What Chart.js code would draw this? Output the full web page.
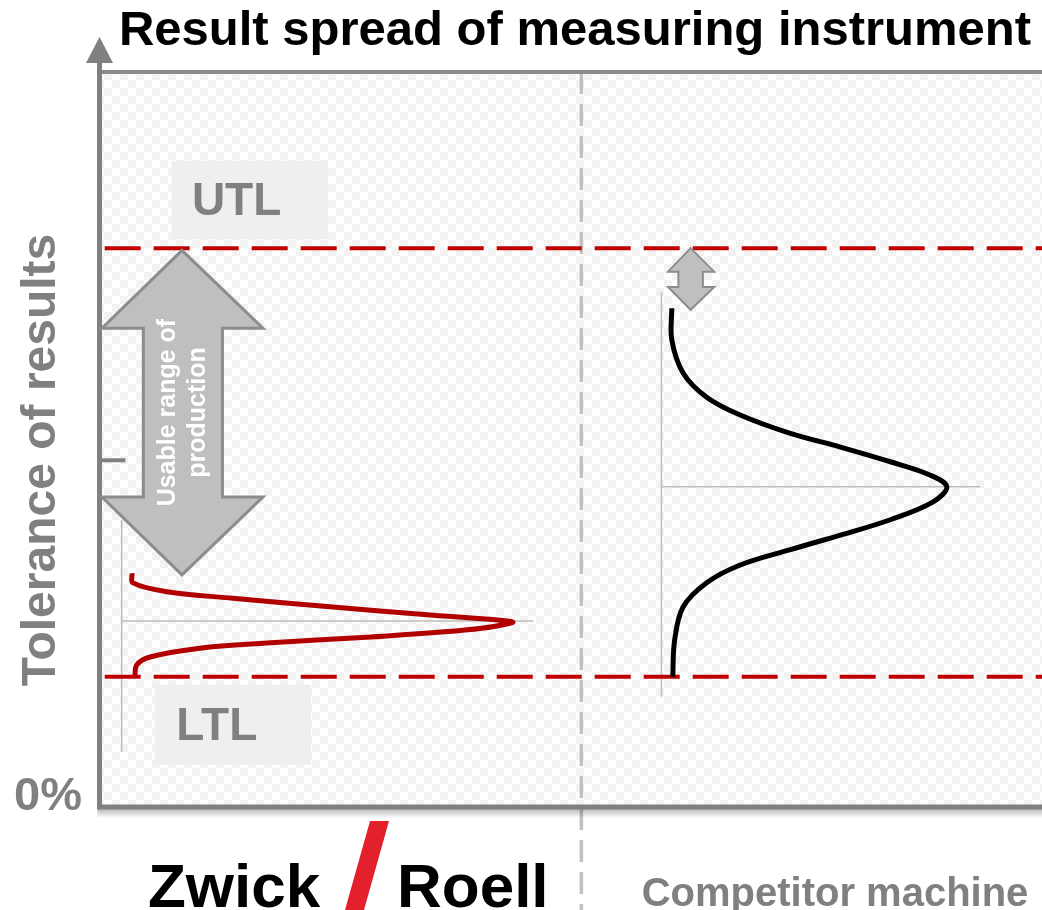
<!DOCTYPE html>
<html>
<head>
<meta charset="utf-8">
<title>Result spread of measuring instrument</title>
<script src="https://cdn.jsdelivr.net/npm/chart.js@4.4.1/dist/chart.umd.min.js"></script>
<style>
  html, body { margin: 0; padding: 0; background: #fff; }
  #chart { display: block; }
</style>
</head>
<body>
<canvas id="chart" width="1042" height="910"></canvas>
<script>
// x = position across the plot (0..100), y = tolerance in % of the axis (0 at the bottom)
const upperLimit = 76.0;
const lowerLimit = 17.6;
const separatorX = 51.1;

// ZwickRoell: narrow spread
const zwickX = [3.4, 3.5, 7.1, 14.1, 24.7, 35.4, 42.5, 43.8, 39.0, 28.3, 17.7, 10.6, 5.3, 3.9, 3.7];
const zwickY = [31.7, 30.4, 29.2, 28.3, 27.1, 26.0, 25.3, 25.0, 24.0, 23.0, 22.2, 21.5, 20.3, 19.2, 17.6];
const zwickMean = 25.2;

// Competitor: wide spread
const compX = [60.7, 60.7, 61.9, 64.4, 67.9, 73.2, 78.6, 83.9, 88.1, 89.9, 88.4, 83.9, 78.6, 73.2, 67.9, 64.4, 61.9, 61.0, 60.8];
const compY = [67.8, 63.5, 59.0, 55.7, 53.3, 50.8, 48.9, 46.9, 45.1, 43.5, 41.4, 39.0, 36.9, 34.9, 32.8, 30.4, 27.1, 22.6, 17.6];
const compMean = 43.5;

// labels
const chartTitle = 'Result spread of measuring instrument';
const yAxisTitle = 'Tolerance of results';
const yTickLabels = ['0%'];
const limitLabels = ['UTL', 'LTL'];
const rangeLabel = ['Usable range of', 'production'];
const machineLabels = ['Zwick', 'Roell', 'Competitor machine'];

const FONT = '"Liberation Sans", Arial, Helvetica, sans-serif';
const GREY_TEXT = '#808080';

const toPoints = (xs, ys) => xs.map((x, i) => ({ x: x, y: ys[i] }));

// straight helper line between two points
const segment = (x1, y1, x2, y2) => [{ x: x1, y: y1 }, { x: x2, y: y2 }];

// checkered background of the plot
const backgroundPlugin = {
  id: 'checkerBackground',
  beforeDraw(chart) {
    const { ctx, chartArea } = chart;
    const tile = document.createElement('canvas');
    tile.width = 16;
    tile.height = 16;
    const t = tile.getContext('2d');
    t.fillStyle = '#ffffff';
    t.fillRect(0, 0, 16, 16);
    t.fillStyle = '#f2f2f2';
    t.fillRect(0, 0, 8, 8);
    t.fillRect(8, 8, 8, 8);
    ctx.save();
    ctx.fillStyle = ctx.createPattern(tile, 'repeat');
    ctx.fillRect(chartArea.left, chartArea.top, chartArea.right - chartArea.left, chartArea.bottom - chartArea.top);
    ctx.restore();
  }
};

// draw a vertical double arrow, given in data units
function drawDoubleArrow(chart, a, lineWidth) {
  const { ctx } = chart;
  const X = v => chart.scales.x.getPixelForValue(v);
  const Y = v => chart.scales.y.getPixelForValue(v);
  const pts = [
    [a.cx, a.top], [a.headR, a.headTop], [a.shaftR, a.headTop], [a.shaftR, a.headBottom],
    [a.headR, a.headBottom], [a.cx, a.bottom], [a.headL, a.headBottom], [a.shaftL, a.headBottom],
    [a.shaftL, a.headTop], [a.headL, a.headTop]
  ];
  ctx.save();
  ctx.beginPath();
  pts.forEach((p, i) => {
    if (i === 0) ctx.moveTo(X(p[0]), Y(p[1]));
    else ctx.lineTo(X(p[0]), Y(p[1]));
  });
  ctx.closePath();
  ctx.fillStyle = '#bfbfbf';
  ctx.fill();
  ctx.lineJoin = 'miter';
  ctx.strokeStyle = '#8c8c8c';
  ctx.lineWidth = lineWidth;
  ctx.stroke();
  ctx.restore();
}

// axes, labels, arrows and the logo
const decorPlugin = {
  id: 'decor',
  afterDatasetsDraw(chart) {
    const { ctx, chartArea } = chart;
    const X = v => chart.scales.x.getPixelForValue(v);
    const Y = v => chart.scales.y.getPixelForValue(v);
    const left = chartArea.left - 0.5;

    ctx.save();

    // top border
    ctx.strokeStyle = '#8c8c8c';
    ctx.lineWidth = 4;
    ctx.beginPath();
    ctx.moveTo(chartArea.left, chartArea.top);
    ctx.lineTo(chartArea.right, chartArea.top);
    ctx.stroke();

    // bottom axis with a soft shadow
    const grad = ctx.createLinearGradient(0, chartArea.bottom + 3, 0, chartArea.bottom + 12);
    grad.addColorStop(0, 'rgba(0,0,0,0.28)');
    grad.addColorStop(1, 'rgba(0,0,0,0)');
    ctx.fillStyle = grad;
    ctx.fillRect(left - 2, chartArea.bottom + 3, chartArea.right - left + 2, 9);
    ctx.strokeStyle = '#808080';
    ctx.lineWidth = 5;
    ctx.beginPath();
    ctx.moveTo(left - 2.5, chartArea.bottom + 1);
    ctx.lineTo(chartArea.right, chartArea.bottom + 1);
    ctx.stroke();

    // left axis with arrow head
    ctx.beginPath();
    ctx.moveTo(left, chartArea.bottom + 3);
    ctx.lineTo(left, chartArea.top - 12);
    ctx.stroke();
    ctx.fillStyle = '#808080';
    ctx.beginPath();
    ctx.moveTo(left, chartArea.top - 35);
    ctx.lineTo(left + 13.5, chartArea.top - 9);
    ctx.lineTo(left - 13.5, chartArea.top - 9);
    ctx.closePath();
    ctx.fill();

    // small tick on the axis
    ctx.lineWidth = 4;
    ctx.beginPath();
    ctx.moveTo(left, Y(47.1));
    ctx.lineTo(X(2.7), Y(47.1));
    ctx.stroke();

    // title
    ctx.fillStyle = '#000000';
    ctx.font = 'bold 49px ' + FONT;
    ctx.textAlign = 'center';
    ctx.textBaseline = 'alphabetic';
    ctx.fillText(chartTitle, 575, 45);

    // y axis title
    ctx.save();
    ctx.translate(55, 460);
    ctx.rotate(-Math.PI / 2);
    ctx.fillStyle = GREY_TEXT;
    ctx.font = 'bold 48px ' + FONT;
    ctx.fillText(yAxisTitle, 0, 0);
    ctx.restore();

    // 0% tick label
    ctx.fillStyle = GREY_TEXT;
    ctx.font = 'bold 47px ' + FONT;
    ctx.textAlign = 'right';
    ctx.fillText(yTickLabels[0], 82, Y(0) + 4);

    // UTL / LTL boxes, text sits left of the box centre
    const boxes = [
      { x1: 7.6, x2: 24.2, y1: 87.9, y2: 77.2, tx: 14.5, text: limitLabels[0] },
      { x1: 5.8, x2: 22.4, y1: 16.5, y2: 5.6, tx: 12.4, text: limitLabels[1] }
    ];
    boxes.forEach(b => {
      ctx.fillStyle = '#efefef';
      ctx.fillRect(X(b.x1), Y(b.y1), X(b.x2) - X(b.x1), Y(b.y2) - Y(b.y1));
      ctx.fillStyle = GREY_TEXT;
      ctx.font = 'bold 46px ' + FONT;
      ctx.textAlign = 'center';
      ctx.textBaseline = 'middle';
      ctx.fillText(b.text, X(b.tx), (Y(b.y1) + Y(b.y2)) / 2 + 2);
    });

    // usable range arrow
    drawDoubleArrow(chart, {
      cx: 8.7, top: 75.7, bottom: 31.5, headTop: 65.1, headBottom: 42.1,
      headL: 0.2, headR: 17.3, shaftL: 4.6, shaftR: 13.0
    }, 3);
    ctx.save();
    ctx.translate(X(8.7) + 1, (Y(65.1) + Y(42.1)) / 2);
    ctx.rotate(-Math.PI / 2);
    ctx.fillStyle = '#ffffff';
    ctx.font = 'bold 25px ' + FONT;
    ctx.textAlign = 'center';
    ctx.textBaseline = 'middle';
    ctx.fillText(rangeLabel[0], 0, -15);
    ctx.fillText(rangeLabel[1], 0, 15);
    ctx.restore();

    // small gap arrow above the competitor curve
    drawDoubleArrow(chart, {
      cx: 62.7, top: 76.0, bottom: 67.6, headTop: 72.8, headBottom: 70.7,
      headL: 60.3, headR: 65.2, shaftL: 61.4, shaftR: 64.0
    }, 2);

    // logo
    ctx.textAlign = 'left';
    ctx.textBaseline = 'alphabetic';
    ctx.fillStyle = '#000000';
    ctx.font = 'bold 62px ' + FONT;
    ctx.fillText(machineLabels[0], 148, 907);
    ctx.fillText(machineLabels[1], 397, 907);
    ctx.fillStyle = '#e3212c';
    ctx.beginPath();
    ctx.moveTo(370, 821);
    ctx.lineTo(389, 821);
    ctx.lineTo(364, 910);
    ctx.lineTo(345, 910);
    ctx.closePath();
    ctx.fill();

    // competitor label
    ctx.fillStyle = GREY_TEXT;
    ctx.font = 'bold 40px ' + FONT;
    ctx.textAlign = 'center';
    ctx.fillText(machineLabels[2], 835, 906);

    ctx.restore();
  }
};

const thinGrey = { borderColor: '#bdbdbd', borderWidth: 1.5, pointRadius: 0, showLine: true, order: 3 };
const limitLine = { borderColor: '#c00000', borderWidth: 4, borderDash: [36, 13], pointRadius: 0, showLine: true, order: 1 };

new Chart(document.getElementById('chart'), {
  type: 'scatter',
  data: {
    datasets: [
      { label: 'ZwickRoell', data: toPoints(zwickX, zwickY), borderColor: '#b00000', borderWidth: 5, pointRadius: 0, showLine: true, tension: 0.35, order: 0 },
      { label: 'Competitor', data: toPoints(compX, compY), borderColor: '#000000', borderWidth: 5, pointRadius: 0, showLine: true, tension: 0.35, order: 0 },
      Object.assign({ label: 'UTL', data: segment(0.5, upperLimit, 100, upperLimit) }, limitLine),
      Object.assign({ label: 'LTL', data: segment(0.5, lowerLimit, 100, lowerLimit) }, limitLine),
      Object.assign({ label: 'zwick axis', data: segment(2.3, 39.0, 2.3, 7.4) }, thinGrey),
      Object.assign({ label: 'zwick mean', data: segment(2.3, zwickMean, 46.0, zwickMean) }, thinGrey),
      Object.assign({ label: 'comp axis', data: segment(59.6, 70.0, 59.6, 14.9) }, thinGrey),
      Object.assign({ label: 'comp mean', data: segment(59.6, compMean, 93.4, compMean) }, thinGrey),
      { label: 'separator', data: segment(separatorX, 100, separatorX, -14.2), borderColor: '#c0c0c0', borderWidth: 3.5, borderDash: [22, 10], pointRadius: 0, showLine: true, clip: false, order: 4 }
    ]
  },
  options: {
    responsive: false,
    animation: false,
    devicePixelRatio: 1,
    layout: { padding: { left: 100, right: 0, top: 72, bottom: 104 } },
    scales: {
      x: { type: 'linear', min: 0, max: 100, display: false },
      y: { type: 'linear', min: 0, max: 100, display: false }
    },
    plugins: {
      legend: { display: false },
      tooltip: { enabled: false }
    }
  },
  plugins: [backgroundPlugin, decorPlugin]
});
</script>
</body>
</html>
